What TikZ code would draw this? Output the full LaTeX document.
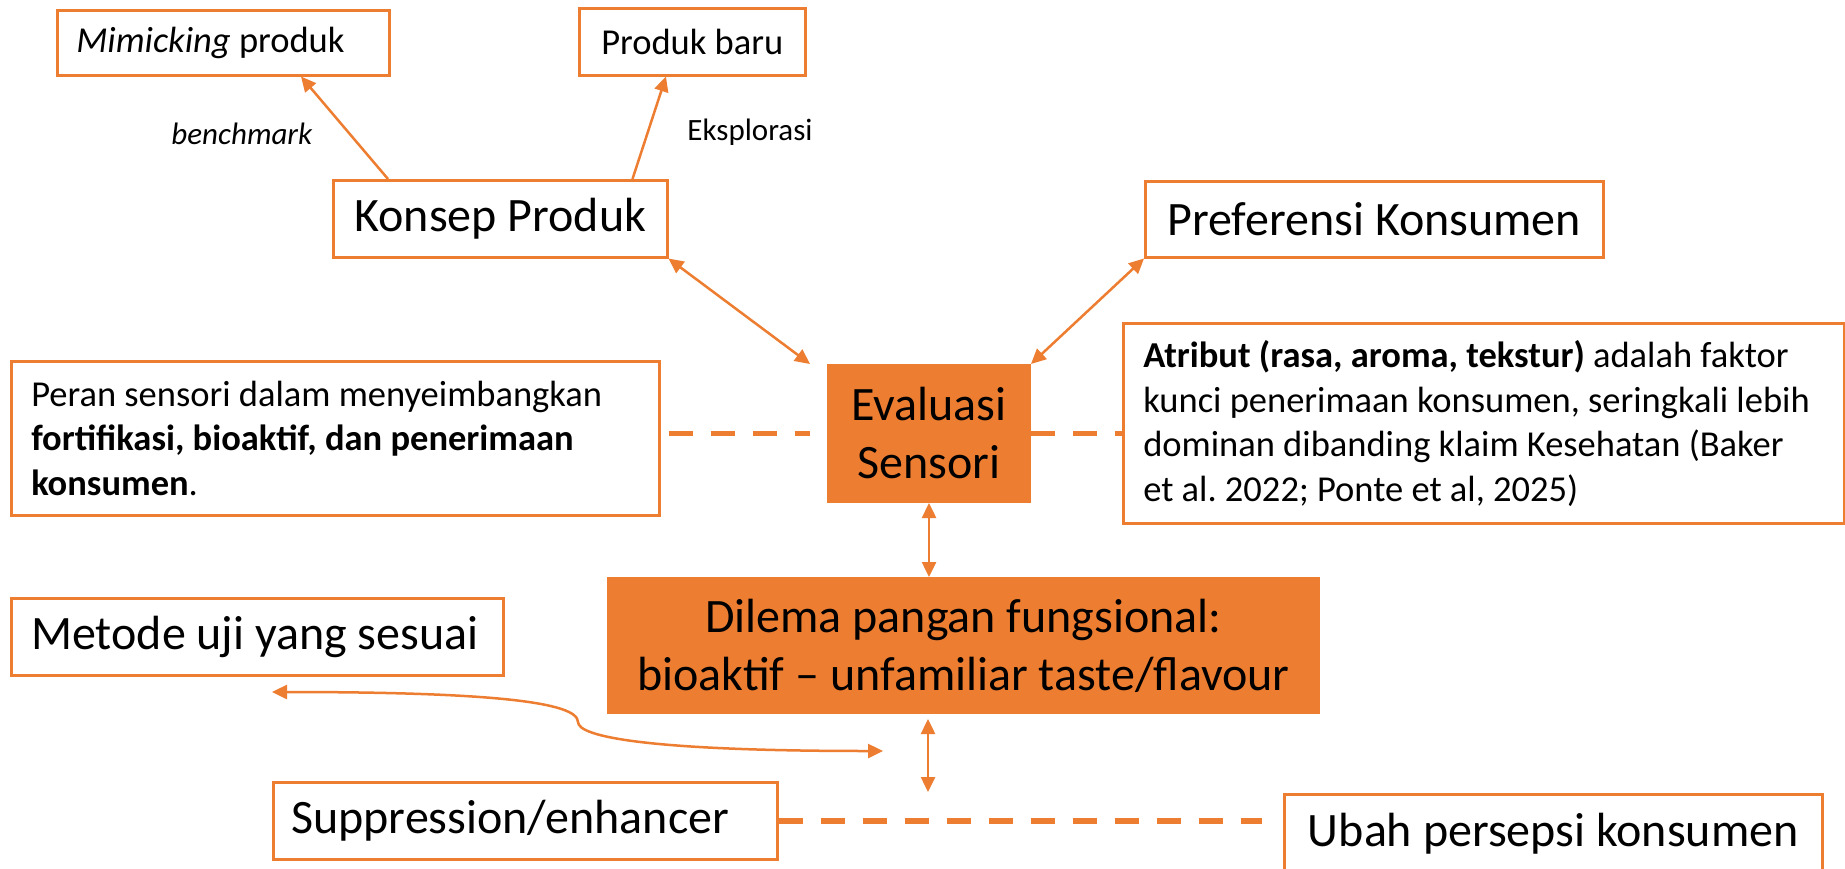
\documentclass[tikz,border=0pt]{standalone}
\usepackage{fontspec}
\setmainfont{Carlito}
\usetikzlibrary{arrows.meta,calc}
\definecolor{orng}{RGB}{237,125,49}
\frenchspacing
\begin{document}
\begin{tikzpicture}[x=1pt,y=-1pt,
  >={Triangle[width=14pt,length=15pt]},
  box/.style={draw=orng, line width=2.5pt, fill=white, inner sep=0pt, text=black, anchor=north west},
  obox/.style={draw=orng, fill=orng, line width=1pt, inner sep=0pt, text=black, anchor=north west, align=flush center},
  conn/.style={draw=orng, line width=2.5pt},
  dashline/.style={draw=orng, line width=5.5pt, dash pattern=on 24pt off 18pt},
  big/.style={font=\fontsize{48}{58}\selectfont},
  mid/.style={font=\fontsize{36.5}{44.5}\selectfont},
  lbl/.style={font=\fontsize{31}{38}\selectfont, inner sep=0pt}
]
\fill[white] (0,0) rectangle (1845,868);
\useasboundingbox (0,0) rectangle (1845,868);

% boxes
\node[box, mid, minimum width=332pt, minimum height=65pt, inner xsep=19pt, text width=294pt, align=flush left] (mim) at (56,9) {\textit{Mimicking} produk};
\node[box, mid, minimum width=226pt, minimum height=67pt] (baru) at (578,7) {Produk baru};
\node[box, big, minimum width=334pt, minimum height=77pt] (konsep) at (332,179) {Konsep Produk};
\node[box, big, minimum width=458pt, minimum height=76pt] (pref) at (1144,180) {Preferensi Konsumen};
\node[box, mid, minimum width=648pt, minimum height=154pt, inner xsep=20pt, text width=608pt, align=flush left] (peran) at (10,360)
  {Peran sensori dalam menyeimbangkan\\\textbf{fortifikasi, bioaktif, dan penerimaan}\\\textbf{konsumen}.};
\node[obox, big, minimum width=203pt, minimum height=138pt] (eval) at (827,364) {Evaluasi\\Sensori};
\node[box, mid, minimum width=721pt, minimum height=200pt, inner xsep=20pt, text width=681pt, align=flush left] (atr) at (1122,322)
  {\textbf{Atribut (rasa, aroma, tekstur)} adalah faktor\\kunci penerimaan konsumen, seringkali lebih\\dominan dibanding klaim Kesehatan (Baker\\et al. 2022; Ponte et al, 2025)};
\node[obox, big, minimum width=712pt, minimum height=136pt] (dil) at (607,577) {Dilema pangan fungsional:\\bioaktif -- unfamiliar taste/flavour};
\node[box, big, minimum width=492pt, minimum height=77pt, inner xsep=20pt, text width=452pt, align=flush left] (metode) at (10,597) {Metode uji yang sesuai};
\node[box, big, minimum width=504pt, minimum height=77pt, inner xsep=18pt, text width=468pt, align=flush left] (supp) at (272,781) {Suppression/enhancer};
\node[box, big, minimum width=538pt, minimum height=78pt] (ubah) at (1283,793) {Ubah persepsi konsumen};

% labels
\node[lbl] (bench) at (242,134) {\textit{benchmark}};
\node[lbl] (eksp) at (750,132) {Eksplorasi};

% free ends
\coordinate (cl) at (272,692);
\coordinate (cr) at (883,751);
\coordinate (dl) at (928,792);

% connectors
\draw[conn,->] ([xshift=56pt]konsep.north west) -- ([xshift=245pt]mim.south west);
\draw[conn,->] ([xshift=-36pt]konsep.north east) -- ([xshift=88pt]baru.south west);
\draw[conn,<->] (konsep.south east) -- ([xshift=-17pt]eval.north west);
\draw[conn,<->] (pref.south west) -- (eval.north east);
\draw[conn,<->] (eval.south) -- (eval.south |- dil.north);
\draw[conn,<->] ($(dl |- dil.south)+(0,5)$) -- (dl);
\draw[conn,<->] (cl) .. controls (490,692) and (578,702) .. (578,722)
                     .. controls (578,737) and (650,751) .. (cr);

% dashed links
\draw[dashline] ($(peran.east |- eval.west)+(8,0)$) -- ($(eval.west)+(-17,0)$);
\draw[dashline] (eval.east) -- (eval.east -| atr.west);
\draw[dashline] (supp.east) -- ($(supp.east -| ubah.west)+(-21,0)$);
\end{tikzpicture}
\end{document}
